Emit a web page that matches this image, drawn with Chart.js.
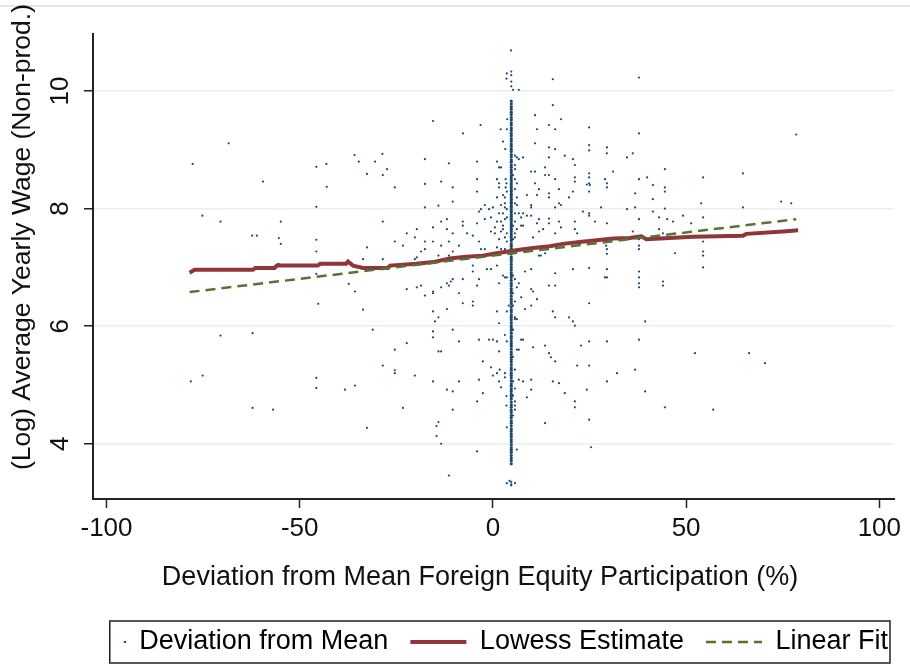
<!DOCTYPE html>
<html>
<head>
<meta charset="utf-8">
<script src="https://cdn.jsdelivr.net/npm/chart.js@4.4.0/dist/chart.umd.min.js"></script>
<style>
  html, body { margin: 0; padding: 0; background: #fff; }
</style>
</head>
<body>
<canvas id="chart" width="910" height="667"></canvas>
<script>
const xTicks = [-100, -50, 0, 50, 100];
const yTicks = [4, 6, 8, 10];

// scatter: [deviation from mean FEP, log avg yearly wage]
const scatterPts = [
  [-77.7,8.76],[-75.2,7.88],[-70.5,7.78],[-59.5,8.46],[-62.3,7.54],[-61.1,7.54],[-55.4,7.50],[-54.9,7.40],[-54.9,7.78],[-55.5,7.06],
  [-45.7,8.71],[-43.1,8.76],[-43.0,8.37],[-45.7,8.03],[-45.7,7.47],[-45.7,7.27],[-45.7,6.89],[-45.2,6.38],
  [-35.8,8.91],[-34.7,8.80],[-30.5,8.80],[-28.6,8.93],[-32.6,8.59],[-28.5,8.57],[-27.4,8.67],[-25.4,8.36],
  [-17.6,8.84],[-17.6,8.42],[-17.6,8.02],[-14.1,8.05],[-68.4,9.11],
  [-28.5,7.78],[-25.4,7.44],[-23.3,7.37],[-22.3,7.58],[-20.2,7.51],[-19.7,7.65],[-17.6,7.44],[-15.5,7.68],[-15.5,7.44],
  [-18.6,7.27],[-17.6,7.31],[-20.2,7.14],[-19.7,7.17],[-14.1,7.20],[-32.6,7.34],[-33.6,7.14],[-28.5,7.14],
  [-37.3,6.72],[-35.7,6.59],[-33.6,6.28],[-22.3,6.63],[-19.7,6.66],[-18.6,6.69],[-17.6,6.52],[-15.5,6.59],[-15.5,6.56],
  [-15.5,6.25],[-14.1,6.15],[-15.0,6.08],[-31.1,5.94],[-15.5,5.91],[-15.5,5.81],[-14.1,5.57],[-70.5,5.84],[-62.2,5.88],
  [-25.4,5.60],[-22.3,5.71],[-28.5,5.33],[-25.4,5.25],[-25.4,5.20],[-20.2,5.16],[-15.5,5.06],[-78.2,5.06],[-75.1,5.16],
  [-45.7,5.12],[-45.7,4.95],[-38.3,4.92],[-35.7,4.99],[-23.3,4.61],[-62.2,4.61],[-56.9,4.58],[-32.6,4.27],[-14.1,4.37],[-14.6,4.30],[-14.6,4.13],
  [-15.5,9.49],[-11.4,8.77],[-7.75,9.28],[-3.2,9.42],[2.0,9.35],[3.6,9.35],[2.6,9.14],[3.2,9.01],[3.7,9.52],[3.5,10.21],[3.6,10.30],[5.2,10.02],[6.7,10.02],
  [15.5,10.20],[15.5,9.76],[10.9,9.59],[17.6,9.52],[11.4,9.35],[14.5,9.42],[16.1,9.35],[10.9,9.11],[14.5,9.04],[16.1,9.01],[18.6,8.90],[20.7,8.84],
  [24.9,9.38],[24.9,9.08],[24.9,8.99],[21.2,8.74],[29.5,9.04],[29.5,8.94],[34.7,8.87],[36.2,8.94],[37.8,10.23],[37.8,9.28],
  [37.8,8.50],[39.9,8.53],[31.1,8.63],[29.0,8.50],[29.5,8.43],[29.5,8.36],
  [24.9,8.60],[24.9,8.53],[24.9,8.43],[24.3,8.41],[25.1,8.40],[24.9,8.29],[21.2,8.53],[21.2,8.46],[20.7,8.29],[17.1,8.33],
  [14.5,8.87],[14.5,8.57],[13.5,8.70],[13.5,8.57],[16.1,8.50],[14.5,8.26],[14.5,8.19],[10.9,8.63],[9.9,8.63],
  [10.9,8.43],[11.9,8.33],[11.4,8.23],[8.8,8.23],[9.9,8.06],[9.9,8.02],[17.1,8.09],[16.1,8.02],[17.6,8.06],[19.7,8.19],
  [23.3,7.95],[24.9,7.92],[24.9,7.88],[28.0,8.02],[34.7,7.99],[36.8,8.02],[37.8,7.82],[36.2,7.61],[37.8,7.48],[37.8,7.37],[37.8,7.31],
  [29.5,7.75],[26.4,7.78],[21.2,7.78],[21.2,7.65],[21.8,7.58],[17.1,7.78],[17.6,7.68],[16.1,7.58],[14.5,7.83],[14.5,7.75],[13.0,7.65],
  [11.9,7.82],[11.4,7.75],[11.9,7.61],[10.4,7.51],[7.8,7.92],[8.8,7.88],[9.9,7.88],[7.3,7.71],[7.8,7.71],
  [29.3,7.37],[29.5,7.31],[29.5,7.23],[20.7,6.97],[24.9,6.99],[29.5,6.97],[29.5,6.83],[29.0,6.83],
  [37.8,6.93],[37.8,6.83],[37.8,6.73],[37.8,6.66],[37.8,5.77],[39.4,6.08],[39.4,4.89],[36.8,5.26],[32.1,5.20],[29.5,5.74],[29.5,5.06],
  [24.9,6.39],[24.9,5.74],[24.9,5.33],[25.4,3.94],[24.9,4.41],[24.3,4.92],[22.8,5.67],[21.8,5.33],[21.2,4.72],[21.2,4.62],
  [18.6,4.86],[17.1,5.03],[15.5,5.06],[13.5,4.35],[15.0,5.47],[16.1,5.40],[14.5,5.54],[13.5,5.67],[10.4,5.64],
  [16.1,6.15],[15.5,6.25],[19.7,6.15],[20.7,6.08],[21.2,6.01],[16.1,6.69],[14.5,6.69],[16.1,6.90],[13.5,7.24],[11.9,7.20],[12.4,7.20],
  [9.9,6.97],[8.3,6.93],[9.9,6.63],[10.4,6.59],[11.4,6.46],[9.9,6.35],[8.3,6.29],[7.3,6.49],[6.7,6.73],[5.7,6.80],
  [6.2,6.12],[5.7,6.15],[7.3,5.77],[7.8,5.77],[6.2,5.60],[6.7,5.60],[6.7,5.09],[7.8,5.06],[8.8,4.79],[9.9,4.92],[9.9,5.09],
  [5.7,4.65],[5.7,4.58],[6.2,3.90],[5.7,3.33],[3.6,3.33],[4.3,3.37],[3.6,4.28],[3.5,4.65],[3.5,4.81],
  [3.1,5.20],[3.1,5.13],[1.6,5.06],[2.1,4.96],[1.05,5.20],[0.0,5.16],[1.75,5.26],[3.1,5.85],[3.6,5.74],
  [1.6,5.57],[1.05,5.74],[0.0,5.77],[-1.0,5.77],[-3.6,5.77],[-2.6,5.40],[-0.5,5.30],[1.6,6.05],[1.05,6.25],[3.6,6.25],[4.1,6.35],
  [1.6,6.73],[2.6,6.86],[3.1,6.83],[3.6,6.83],[-3.6,6.80],[-4.1,6.69],[-1.55,6.97],[-0.5,6.97],[1.05,7.03],[-5.2,7.03],[-5.2,6.93],
  [-7.8,6.80],[-8.8,6.56],[-7.8,6.39],[-5.2,6.42],[-5.2,6.35],[-10.4,6.80],[-10.9,6.76],[-11.9,6.73],[-11.4,6.69],[-13.4,6.66],
  [-11.9,6.29],[-13.4,5.57],[-10.4,5.94],[-8.8,5.74],[-11.9,4.92],[-10.4,4.89],[-8.8,5.06],[-10.4,4.58],[-13.4,4.00],[-11.4,3.46],
  [-4.1,3.87],[-4.1,4.72],[-2.6,4.86],[-3.6,5.09],
  [-13.4,7.78],[-11.9,7.82],[-11.9,7.65],[-10.4,7.58],[-13.4,7.37],[-11.4,7.44],[-10.4,7.27],[-11.4,7.20],[-8.8,7.37],[-7.8,7.78],[-7.8,7.71],[-6.7,7.58],[-5.2,7.54],
  [-4.1,7.75],[-3.6,7.44],[-3.1,7.31],[-2.1,7.31],[-2.1,7.82],[-3.6,7.95],[-3.1,7.99],
  [-2.1,8.06],[-4.1,8.29],[-4.1,8.50],[-4.1,8.80],[-10.4,8.36],[-10.4,8.12],[-13.4,8.46],
  [0.0,8.02],[-1.0,7.99],[-0.5,7.85],[1.6,7.92],[1.05,7.78],[0.5,7.68],[-0.5,7.61],[0.5,7.58],[1.6,7.48],[1.05,7.34],[2.1,7.61],[2.6,7.71],[2.1,7.31],
  [1.05,8.80],[1.6,8.70],[2.1,8.70],[1.05,8.50],[1.6,8.43],[1.6,8.36],[1.05,8.19],[2.6,8.23],[3.1,8.19],[3.1,8.09],[2.1,8.06],[3.1,8.02],[3.6,7.99],
  [2.6,7.92],[3.6,7.85],[3.1,7.82],[2.1,7.78],[2.6,7.65],[3.6,7.58],[3.1,7.51],[3.6,7.44],[3.1,7.31],[3.6,7.27],
  [3.3,8.50],[3.5,8.43],[3.3,8.36],[3.6,8.29],
  [5.7,8.90],[6.2,8.87],[6.7,8.84],[5.7,8.74],[5.7,8.67],[5.2,8.57],[5.7,8.50],[6.2,8.43],[5.7,8.33],[6.2,8.19],[5.7,8.09],[6.2,8.06],
  [5.7,7.92],[6.7,7.92],[7.3,7.85],[5.7,7.78],[5.2,7.71],[6.2,7.65],[5.7,7.58],[5.7,7.51],[5.2,7.48],[7.8,8.87],
  [5.2,6.86],[6.2,6.66],[5.2,6.56],[5.7,6.42],[5.2,6.35],[5.7,6.12],[5.2,5.94],[5.2,5.48],[5.7,5.26],[5.2,5.06],[5.7,4.94],[5.2,4.82],[5.7,4.72],[5.2,4.48],
  [4.75,10.08],[4.75,10.16],[4.75,10.27],[4.75,10.33],[4.7,10.69],[4.75,3.29],[4.75,3.31],[4.75,3.35],
  [36.8,8.26],[41.4,8.40],[41.4,8.16],[41.4,7.95],[44.5,8.67],[44.5,8.36],[44.5,8.29],[44.5,8.00],
  [43.0,7.85],[45.1,7.82],[46.6,7.78],[49.2,7.88],[51.3,7.75],[53.9,8.09],[54.4,8.53],[54.4,7.85],[64.7,8.60],[64.7,8.02],[74.6,8.12],[77.2,8.09],
  [43.0,7.65],[44.0,7.58],[47.1,7.24],[54.4,7.44],[54.4,7.27],[54.4,7.20],[54.4,7.00],
  [44.0,6.76],[44.0,6.69],[44.5,4.62],[52.3,5.54],[57.0,4.58],[66.3,5.54],[70.4,5.37],[78.5,9.26]
];

// the dense column of firms sitting at the same deviation
const colX = 4.75;
const colY = [3.66,3.71,3.75,3.80,3.85,3.89,3.93,3.98,4.03,4.07,4.12,4.16,4.21,4.25,4.30,4.35,4.39,4.44,4.48,4.53,
  4.57,4.62,4.66,4.71,4.76,4.80,4.84,4.89,4.93,4.98,5.02,5.07,5.12,5.16,5.20,5.25,5.29,5.34,5.39,5.43,
  5.47,5.52,5.56,5.61,5.66,5.70,5.74,5.79,5.83,5.88,5.93,5.97,6.01,6.06,6.11,6.15,6.19,6.24,6.28,6.33,
  6.38,6.42,6.46,6.51,6.56,6.60,6.64,6.69,6.73,6.78,6.83,6.87,6.91,6.96,7.00,7.05,7.10,7.14,7.18,7.23,
  7.27,7.32,7.36,7.40,7.45,7.49,7.53,7.57,7.61,7.65,7.69,7.72,7.76,7.80,7.83,7.87,7.90,7.94,7.97,8.01,
  8.04,8.08,8.11,8.15,8.18,8.22,8.25,8.29,8.32,8.36,8.40,8.44,8.48,8.52,8.56,8.61,8.65,8.70,8.74,8.79,
  8.83,8.88,8.92,8.97,9.01,9.06,9.10,9.15,9.19,9.24,9.28,9.33,9.37,9.42,9.46,9.51,9.55,9.60,9.64,9.69,
  9.73,9.78,9.83];

// lowess estimate
const lowessX = [-78.5,-77.2,-62.1,-61.5,-56.5,-55.9,-45.3,-44.7,-38.0,-37.5,-36.2,-33.6,-27.2,-26.6,-19.8,-15.5,-11.2,-6.9,
  -2.6,0.9,4.75,6.9,10.4,14.7,18.1,22.4,26.8,31.1,35.4,38.4,39.7,51.8,64.7,65.6,75.1,79.0];
const lowessY = [6.91,6.96,6.96,6.99,6.99,7.03,7.03,7.06,7.06,7.10,7.03,6.99,6.99,7.03,7.06,7.09,7.15,7.18,
  7.20,7.24,7.28,7.30,7.33,7.36,7.40,7.43,7.46,7.49,7.50,7.53,7.48,7.52,7.54,7.57,7.61,7.63];

// linear fit
const fitX = [-78.5, 78.5];
const fitY = [6.58, 7.82];

const xTitle = 'Deviation from Mean Foreign Equity Participation (%)';
const yTitle = '(Log) Average Yearly Wage (Non-prod.)';

const navy = '#1a476f';
const maroon = '#90353b';
const green = '#55752f';
const fontFam = '"Liberation Sans", Arial, sans-serif';

// legend marker for the scatter: a small dot near the right of the key area
const dotImg = document.createElement('canvas');
dotImg.width = 56;
dotImg.height = 6;
const dctx = dotImg.getContext('2d');
dctx.fillStyle = navy;
dctx.fillRect(54, 2, 2, 2);

const extras = {
  id: 'extras',
  beforeDraw(chart) {
    const ctx = chart.ctx;
    ctx.save();
    ctx.fillStyle = '#fff';
    ctx.fillRect(0, 0, chart.width, chart.height);
    ctx.strokeStyle = '#e3e6ec';
    ctx.lineWidth = 2;
    ctx.beginPath();
    ctx.moveTo(0, 6);
    ctx.lineTo(chart.width, 6);
    ctx.stroke();
    ctx.restore();
  },
  afterDraw(chart) {
    const ctx = chart.ctx;
    ctx.save();
    ctx.fillStyle = '#111';
    ctx.textAlign = 'center';
    ctx.textBaseline = 'middle';
    ctx.font = '27px ' + fontFam;
    // x axis title, a little left of the plot centre as in the original
    ctx.fillText(xTitle, 480, 578);
    // y axis title
    ctx.translate(23, 237);
    ctx.rotate(-Math.PI / 2);
    ctx.font = '26.5px ' + fontFam;
    ctx.fillText(yTitle, 0, 0);
    ctx.restore();

    // box round the legend
    const boxes = chart.legend.legendHitBoxes;
    if (boxes && boxes.length) {
      const first = boxes[0];
      const last = boxes[boxes.length - 1];
      const cy = first.top + first.height / 2;
      const left = first.left + 40;
      const right = last.left + last.width + 2;
      ctx.save();
      ctx.strokeStyle = '#222';
      ctx.lineWidth = 1.5;
      ctx.strokeRect(left, cy - 21, right - left, 42);
      ctx.restore();
    }
  }
};

const ctx = document.getElementById('chart');
new Chart(ctx, {
  type: 'scatter',
  data: {
    datasets: [
      {
        label: 'Linear Fit',
        type: 'line',
        data: fitX.map((x, i) => ({ x: x, y: fitY[i] })),
        borderColor: green,
        borderWidth: 2.5,
        borderDash: [10, 6],
        pointRadius: 0,
        fill: false,
        order: 0
      },
      {
        label: 'Lowess Estimate',
        type: 'line',
        data: lowessX.map((x, i) => ({ x: x, y: lowessY[i] })),
        borderColor: maroon,
        borderWidth: 4,
        pointRadius: 0,
        fill: false,
        tension: 0,
        order: 1
      },
      {
        label: 'column',
        data: colY.map(y => ({ x: colX, y: y })),
        backgroundColor: navy,
        borderWidth: 0,
        pointRadius: 1.6,
        order: 2
      },
      {
        label: 'Deviation from Mean',
        data: scatterPts.map(p => ({ x: p[0], y: p[1] })),
        backgroundColor: navy,
        borderWidth: 0,
        pointRadius: 1.1,
        order: 3
      }
    ]
  },
  options: {
    responsive: false,
    animation: false,
    devicePixelRatio: 1,
    layout: { padding: { top: 34, right: 0, left: 0, bottom: 1.5 } },
    plugins: {
      tooltip: { enabled: false },
      legend: {
        position: 'bottom',
        align: 'end',
        labels: {
          usePointStyle: true,
          pointStyleWidth: 56,
          padding: 22,
          color: '#111',
          font: { family: fontFam, size: 27 },
          generateLabels: () => [
            { text: 'Deviation from Mean', pointStyle: dotImg, fillStyle: navy, strokeStyle: navy, lineWidth: 0, datasetIndex: 3 },
            { text: 'Lowess Estimate', pointStyle: 'line', fillStyle: maroon, strokeStyle: maroon, lineWidth: 4, datasetIndex: 1 },
            { text: 'Linear Fit', pointStyle: 'line', fillStyle: green, strokeStyle: green, lineWidth: 2.5, lineDash: [10, 6], datasetIndex: 0 }
          ]
        }
      }
    },
    scales: {
      x: {
        type: 'linear',
        min: -103.5,
        max: 103.8,
        afterBuildTicks: s => { s.ticks = xTicks.map(v => ({ value: v })); },
        afterFit: s => { s.height = 107.5; s.paddingRight = 16; },
        grid: { drawOnChartArea: false, tickLength: 9, tickColor: '#222', tickWidth: 1.5 },
        border: { color: '#222', width: 2 },
        ticks: { color: '#111', padding: 5, font: { family: fontFam, size: 26 } }
      },
      y: {
        type: 'linear',
        min: 3.06,
        max: 10.97,
        afterBuildTicks: s => { s.ticks = yTicks.map(v => ({ value: v })); },
        afterFit: s => { s.width = 93; },
        grid: { color: '#e9eef3', lineWidth: 1.5, tickLength: 9, tickColor: '#222', tickWidth: 1.5 },
        border: { color: '#222', width: 2 },
        ticks: {
          color: '#111',
          minRotation: 90,
          maxRotation: 90,
          crossAlign: 'center',
          padding: 9,
          font: { family: fontFam, size: 26 }
        }
      }
    }
  },
  plugins: [extras]
});
</script>
</body>
</html>
